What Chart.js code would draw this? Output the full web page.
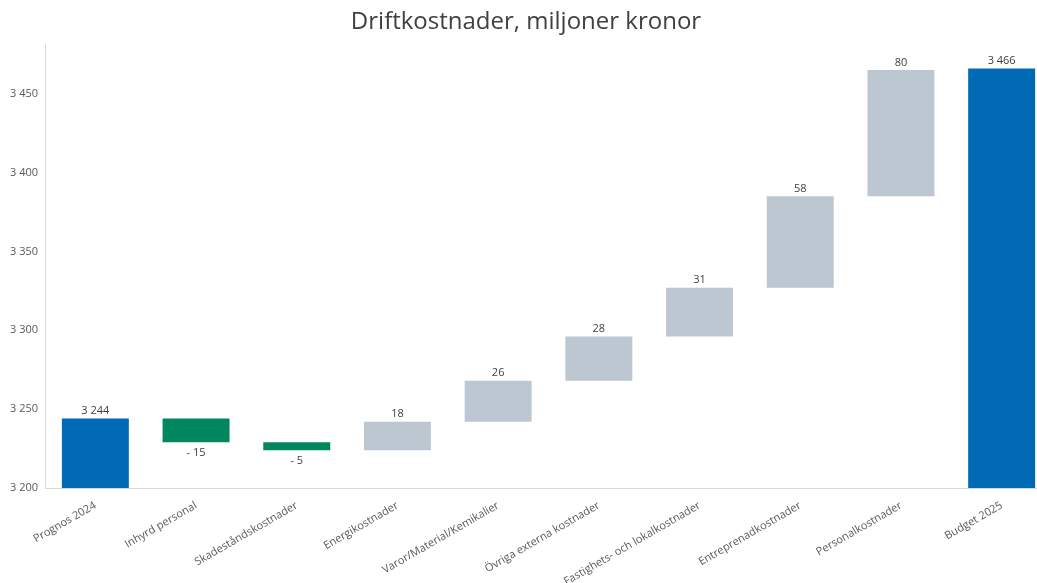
<!DOCTYPE html>
<html>
<head>
<meta charset="utf-8">
<script src="https://cdn.jsdelivr.net/npm/chart.js"></script>
<style>
  html, body { margin: 0; padding: 0; background: #fff; overflow: hidden; }
  #wrap { width: 1037px; height: 583px; overflow: hidden; }
</style>
</head>
<body>
<div id="wrap"><canvas id="my-chart" width="1052" height="583"></canvas></div>
<script>
const categories = ['Prognos 2024', 'Inhyrd personal', 'Skadeståndskostnader', 'Energikostnader',
  'Varor/Material/Kemikalier', 'Övriga externa kostnader', 'Fastighets- och lokalkostnader',
  'Entreprenadkostnader', 'Personalkostnader', 'Budget 2025'];
const totals = [3244, null, null, null, null, null, null, null, null, 3466];
const changes = [null, -15, -5, 18, 26, 28, 31, 58, 80, null];
const yTicks = [3200, 3250, 3300, 3350, 3400, 3450];

const BLUE = '#006AB4', GREEN = '#00875F', GREY = '#BDC7D1';
const fontFam = "'Open Sans', 'Noto Sans', sans-serif";

// floating bars: totals start at axis floor, changes start at running sum
let running = 0;
const ranges = [], colors = [], labels = [];
categories.forEach((c, i) => {
    if (totals[i] !== null) {
        running = totals[i];
        ranges.push([3200, totals[i]]);
        colors.push(BLUE);
        labels.push(totals[i].toLocaleString('sv-SE').replace(/\s/g, ' '));
    } else {
        const start = running;
        running += changes[i];
        ranges.push([start, running]);
        colors.push(changes[i] < 0 ? GREEN : GREY);
        labels.push(changes[i] < 0 ? '- ' + Math.abs(changes[i]) : String(changes[i]));
    }
});

const valueLabels = {
    id: 'valueLabels',
    afterDatasetsDraw(chart) {
        const ctx = chart.ctx;
        const meta = chart.getDatasetMeta(0);
        const y = chart.scales.y;
        ctx.save();
        ctx.font = '11px ' + fontFam;
        ctx.fillStyle = '#404040';
        ctx.textAlign = 'center';
        meta.data.forEach((bar, i) => {
            const r = ranges[i];
            const neg = changes[i] !== null && changes[i] < 0;
            if (neg) {
                ctx.textBaseline = 'top';
                ctx.fillText(labels[i], bar.x, y.getPixelForValue(Math.min(r[0], r[1])) + 5);
            } else {
                ctx.textBaseline = 'bottom';
                ctx.fillText(labels[i], bar.x, y.getPixelForValue(Math.max(r[0], r[1])) - 2);
            }
        });
        ctx.restore();
    }
};

const ctx = document.getElementById('my-chart').getContext('2d');
new Chart(ctx, {
    type: 'bar',
    data: {
        labels: categories,
        datasets: [{
            data: ranges,
            backgroundColor: colors,
            borderWidth: 0,
            barPercentage: 0.665,
            categoryPercentage: 1
        }]
    },
    options: {
        responsive: false,
        animation: false,
        layout: { padding: { left: 0, right: 0, top: 0, bottom: 0 } },
        plugins: {
            legend: { display: false },
            tooltip: { enabled: false },
            title: {
                display: true,
                text: 'Driftkostnader, miljoner kronor',
                color: '#404040',
                font: { family: fontFam, size: 24, weight: 'normal', lineHeight: 1.2 },
                padding: { top: 8, bottom: 8 }
            }
        },
        scales: {
            x: {
                grid: { display: false, drawTicks: false },
                border: { display: true, color: '#D9D9D9' },
                ticks: {
                    color: '#595959',
                    font: { family: fontFam, size: 11 },
                    maxRotation: 30,
                    minRotation: 30,
                    autoSkip: false,
                    padding: 11
                },
                afterFit(scale) { scale.height = 95; }
            },
            y: {
                min: 3200,
                max: 3481,
                afterBuildTicks(scale) { scale.ticks = yTicks.map(v => ({ value: v })); },
                grid: { display: false, drawTicks: false },
                border: { display: true, color: '#D9D9D9' },
                ticks: {
                    color: '#595959',
                    font: { family: fontFam, size: 11 },
                    padding: 7,
                    callback: v => v.toLocaleString('sv-SE').replace(/\s/g, ' ')
                },
                afterFit(scale) { scale.width = 45; }
            }
        }
    },
    plugins: [valueLabels]
});
</script>
</body>
</html>
